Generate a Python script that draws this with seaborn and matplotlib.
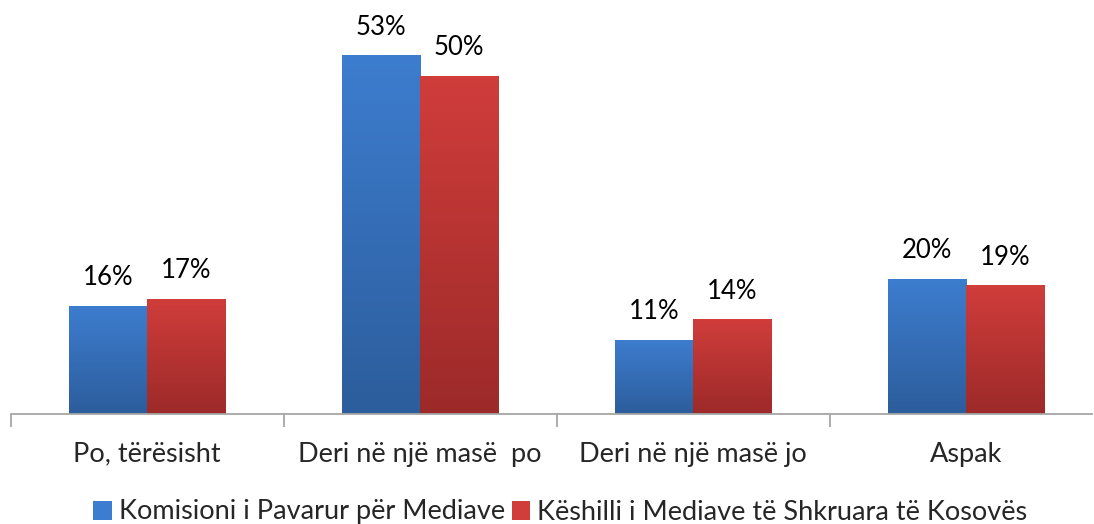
import matplotlib
matplotlib.use("Agg")
import matplotlib.pyplot as plt
import numpy as np
import pandas as pd
import seaborn as sns
from matplotlib.colors import LinearSegmentedColormap
from matplotlib.patches import Patch

categories = ["Po, tërësisht", "Deri në një masë  po", "Deri në një masë jo", "Aspak"]
series = ["Komisioni i Pavarur për Mediave", "Këshilli i Mediave të Shkruara të Kosovës"]
kpm_values = [16, 53, 11, 20]
kmsh_values = [17, 50, 14, 19]

# top / bottom colours of the gradient fill
SERIES_COLORS = {
    series[0]: ("#3d7dcf", "#2c5d9c"),
    series[1]: ("#d03d3b", "#9c2a29"),
}

df = pd.DataFrame({
    "category": categories * 2,
    "series": [series[0]] * 4 + [series[1]] * 4,
    "value": kpm_values + kmsh_values,
})

sns.set_style("white")
plt.rcParams["font.family"] = ["Lato", "DejaVu Sans"]

W, H = 1094, 524
fig = plt.figure(figsize=(W / 100, H / 100), dpi=100)
ax = fig.add_axes([10.5 / W, (H - 414) / H, (1092 - 10.5) / W, 406 / H])

palette = {s: c[0] for s, c in SERIES_COLORS.items()}
sns.barplot(data=df, x="category", y="value", hue="series", order=categories,
            hue_order=series, palette=palette, width=0.575, gap=0,
            saturation=1, ax=ax, legend=False)

# gradient fill on each bar, plus the value label
for container, s, vals in zip(ax.containers, series, [kpm_values, kmsh_values]):
    top, bottom = SERIES_COLORS[s]
    cmap = LinearSegmentedColormap.from_list(s, [bottom, top])
    for bar, v in zip(container, vals):
        x0, y0 = bar.get_x(), bar.get_y()
        w, h = bar.get_width(), bar.get_height()
        grad = np.linspace(0, 1, 256).reshape(-1, 1)
        im = ax.imshow(grad, cmap=cmap, origin="lower", aspect="auto",
                       extent=(x0, x0 + w, y0, y0 + h), zorder=bar.get_zorder())
        im.set_clip_path(bar)
        ax.text(x0 + w / 2, h + 2.3, f"{v}%", ha="center", va="bottom",
                fontsize=18.5, color="black")

ax.set_xlim(-0.5, 3.5 - 10.5 / 273)
ax.set_ylim(0, 60)

for side in ["top", "right", "left"]:
    ax.spines[side].set_visible(False)
ax.spines["bottom"].set_color("#a6a6a6")
ax.spines["bottom"].set_linewidth(1.3)
ax.set_yticks([])
ax.set_xlabel("")
ax.set_ylabel("")

ax.set_xticks([-0.5, 0.5, 1.5, 2.5])
ax.set_xticklabels([])
ax.tick_params(axis="x", which="major", length=9, width=1.3, color="#a6a6a6",
               direction="out", bottom=True)
ax.set_xticks(range(len(categories)), minor=True)
ax.set_xticklabels(categories, minor=True, fontsize=19.5)
ax.tick_params(axis="x", which="minor", length=0, pad=20)

handles = [Patch(facecolor=SERIES_COLORS[s][0], edgecolor="none") for s in series]
fig.legend(handles, series, loc="center", bbox_to_anchor=(0.512, 12 / H), ncol=2,
           frameon=False, fontsize=19.5, handlelength=0.7, handleheight=0.7,
           handletextpad=0.25, columnspacing=0.25, borderaxespad=0, borderpad=0)

fig.savefig("out.png", dpi=100)
